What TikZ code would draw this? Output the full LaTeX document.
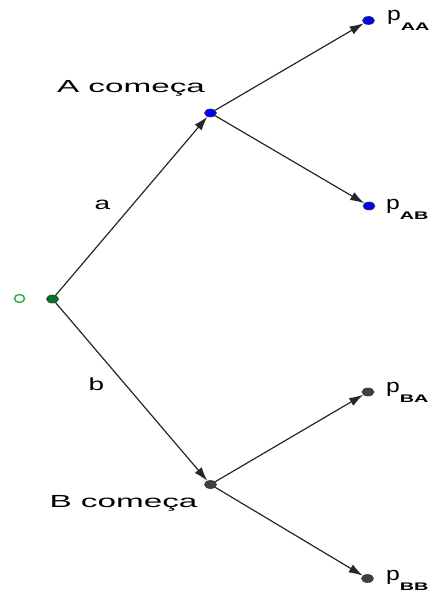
\documentclass[tikz,border=0pt]{standalone}
\usepackage{fontspec}
\setmainfont{Liberation Sans}
\usetikzlibrary{shapes.geometric,arrows.meta}
\definecolor{dotblue}{RGB}{0,0,255}
\definecolor{dotgray}{RGB}{64,64,64}
\definecolor{dotgreen}{RGB}{0,120,40}
\definecolor{lblgreen}{RGB}{40,170,60}
\newcommand{\hst}[2]{\scalebox{#1}[1]{#2}}
\newcommand{\plabel}[1]{\hst{1.3}{p}\raisebox{-10pt}{\fontsize{11}{11}\selectfont\bfseries\hst{1.8}{#1}}}
\begin{document}
\begin{tikzpicture}[x=1pt,y=-1pt,
  ptnode/.style={ellipse,draw=black!80,line width=0.6pt,inner sep=0pt,minimum width=12pt,minimum height=8pt},
  arr/.style={draw=black!85,line width=1.2pt,-{Latex[length=14pt,width=9pt]}},
  lbl/.style={font=\fontsize{17.5}{17.5}\selectfont,inner sep=0pt,anchor=base},
  plbl/.style={font=\fontsize{19}{19}\selectfont,inner sep=0pt,anchor=base west}]
\useasboundingbox (0,0) rectangle (436,601);
% points
\node[ptnode,fill=dotgreen] (O) at (52.5,299) {};
\node[ptnode,fill=dotblue] (A) at (210.5,113) {};
\node[ptnode,fill=dotgray] (B) at (210.5,484.5) {};
\node[ptnode,fill=dotblue] (AA) at (368.5,20.5) {};
\node[ptnode,fill=dotblue] (AB) at (369,206) {};
\node[ptnode,fill=dotgray] (BA) at (368,392) {};
\node[ptnode,fill=dotgray] (BB) at (367.5,578.5) {};
% origin marker
\node[ellipse,draw=lblgreen,line width=1.4pt,inner sep=0pt,minimum width=10pt,minimum height=8pt] (Olbl) at (19.5,298.5) {};
% connectors
\draw[arr] (O) -- (A);
\draw[arr] (O) -- (B);
\draw[arr] (A) -- (AA);
\draw[arr] (A) -- (AB);
\draw[arr] (B) -- (BA);
\draw[arr] (B) -- (BB);
% labels
\node[lbl] (Alabel) at (131,93) {\hst{1.9}{A começa}};
\node[lbl] (Blabel) at (123.5,507) {\hst{1.9}{B começa}};
\node[lbl] (alab) at (102.5,210) {\hst{1.6}{a}};
\node[lbl] (blab) at (96.5,390) {\hst{1.6}{b}};
\node[plbl] (pAA) at (387,21) {\plabel{AA}};
\node[plbl] (pAB) at (386,209.5) {\plabel{AB}};
\node[plbl] (pBA) at (386,392) {\plabel{BA}};
\node[plbl] (pBB) at (386,580) {\plabel{BB}};
\end{tikzpicture}
\end{document}
